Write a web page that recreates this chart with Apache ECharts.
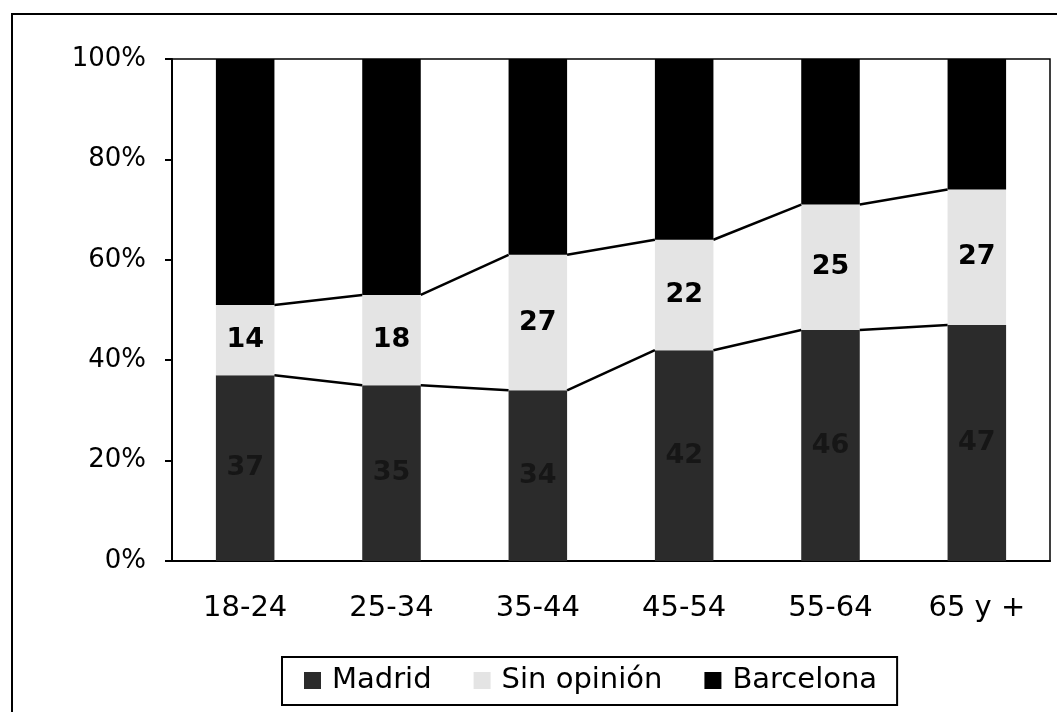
<!DOCTYPE html>
<html>
<head>
<meta charset="utf-8">
<script src="https://cdn.jsdelivr.net/npm/echarts@6/dist/echarts.min.js"></script>
<style>
  html, body { margin: 0; padding: 0; background: #fff; }
  #chart { width: 1057px; height: 712px; }
</style>
</head>
<body>
<div id="chart"></div>
<script>
  // age groups and shares (%)
  const ageGroups = ['18-24', '25-34', '35-44', '45-54', '55-64', '65 y +'];
  const madrid = [37, 35, 34, 42, 46, 47];
  const sinOpinion = [14, 18, 27, 22, 25, 27];
  const barcelona = [49, 47, 39, 36, 29, 26];
  const yTicks = [0, 20, 40, 60, 80, 100];

  const font = 'DejaVu Sans, Verdana, sans-serif';

  // series lines: join the tops of the stacked segments between neighbour bars
  const cumMadrid = madrid;
  const cumSin = madrid.map((v, i) => v + sinOpinion[i]);
  const linkData = [];
  for (let i = 0; i < ageGroups.length - 1; i++) {
    linkData.push([i, cumMadrid[i], cumMadrid[i + 1]]);
    linkData.push([i, cumSin[i], cumSin[i + 1]]);
  }

  const chart = echarts.init(document.getElementById('chart'));
  chart.setOption({
    animation: false,
    backgroundColor: '#fff',
    graphic: [{
      type: 'rect',
      shape: { x: 12, y: 14, width: 1100, height: 800 },
      style: { fill: 'none', stroke: '#000', lineWidth: 2 },
      silent: true
    }],
    grid: {
      left: 172,
      right: 7,
      top: 59,
      bottom: 151,
      show: true,
      borderColor: '#000',
      borderWidth: 1.5,
      backgroundColor: '#fff'
    },
    legend: {
      top: 657,
      left: 282,
      data: ['Madrid', 'Sin opinión', 'Barcelona'],
      icon: 'rect',
      itemWidth: 17,
      itemHeight: 17,
      itemGap: 42,
      padding: [9, 20, 10, 22],
      borderColor: '#000',
      borderWidth: 2,
      textStyle: { fontFamily: font, fontSize: 29, color: '#000', padding: [0, 0, 0, 6] }
    },
    xAxis: {
      type: 'category',
      data: ageGroups,
      axisLine: { lineStyle: { color: '#000', width: 2 } },
      axisTick: { length: 7, lineStyle: { color: '#000', width: 2 } },
      axisLabel: { margin: 33, fontFamily: font, fontSize: 29, color: '#000' },
      splitLine: { show: false }
    },
    yAxis: {
      type: 'value',
      min: yTicks[0],
      max: yTicks[yTicks.length - 1],
      interval: 20,
      axisLine: { show: true, lineStyle: { color: '#000', width: 2 } },
      axisTick: { show: true, length: 7, lineStyle: { color: '#000', width: 2 } },
      axisLabel: { margin: 26, fontFamily: font, fontSize: 26, color: '#000', formatter: '{value}%' },
      splitLine: { show: false }
    },
    series: [
      {
        name: 'Madrid',
        type: 'bar',
        stack: 'total',
        barWidth: '40%',
        data: madrid,
        itemStyle: { color: '#2b2b2b' },
        label: {
          show: true,
          position: 'inside',
          fontFamily: font,
          fontSize: 27,
          fontWeight: 'bold',
          color: '#161616'
        }
      },
      {
        name: 'Sin opinión',
        type: 'bar',
        stack: 'total',
        barWidth: '40%',
        data: sinOpinion,
        itemStyle: { color: '#e4e4e4' },
        label: {
          show: true,
          position: 'inside',
          fontFamily: font,
          fontSize: 27,
          fontWeight: 'bold',
          color: '#000'
        }
      },
      {
        name: 'Barcelona',
        type: 'bar',
        stack: 'total',
        barWidth: '40%',
        data: barcelona,
        itemStyle: { color: '#000' }
      },
      {
        name: 'links',
        type: 'custom',
        data: linkData,
        encode: { x: 0, y: 1 },
        silent: true,
        z: 5,
        renderItem: function (params, api) {
          const i = api.value(0);
          const p1 = api.coord([i, api.value(1)]);
          const p2 = api.coord([i + 1, api.value(2)]);
          const half = api.size([1, 0])[0] * 0.2;
          return {
            type: 'line',
            shape: { x1: p1[0] + half, y1: p1[1], x2: p2[0] - half, y2: p2[1] },
            style: { stroke: '#000', lineWidth: 2.5 }
          };
        }
      }
    ]
  });
</script>
</body>
</html>
